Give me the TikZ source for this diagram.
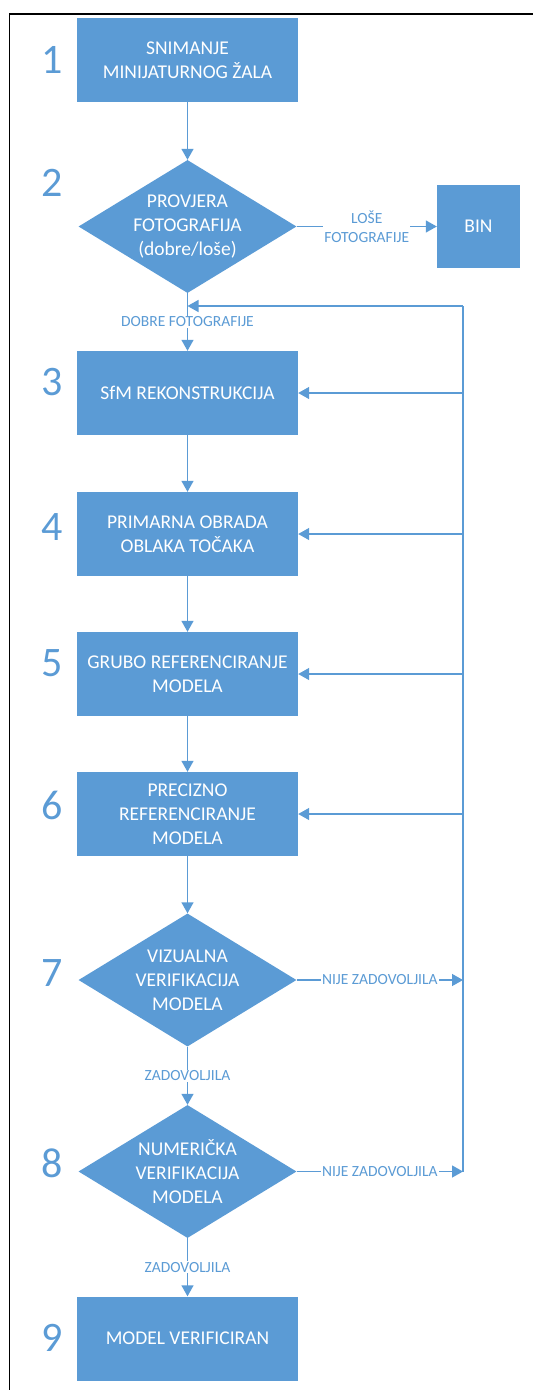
\documentclass[tikz,border=0pt]{standalone}
\usepackage{fontspec}
\setmainfont{Carlito}
\usepackage{tikz}
\usetikzlibrary{shapes.geometric,arrows.meta}
\definecolor{flowblue}{HTML}{5B9BD5}

\begin{document}
\begin{tikzpicture}[x=1pt,y=-1pt,
    box/.style={draw=none, fill=flowblue, text=white, minimum width=221pt, minimum height=84pt, align=center, font=\fontsize{19.5}{24}\selectfont},
    decision/.style={diamond, aspect=1.64, fill=flowblue, minimum width=218pt, minimum height=133pt, inner sep=0pt},
    dtext/.style={text=white, inner sep=0pt, align=center, font=\fontsize{19.5}{24}\selectfont},
    flow/.style={flowblue, line width=1.4pt, -{Triangle[length=11pt,width=12pt]}},
    lbl/.style={fill=white, text=flowblue, inner sep=1pt, align=center, font=\fontsize{15.5}{19}\selectfont},
    num/.style={text=flowblue, font=\fontsize{42}{42}\selectfont}]
    \useasboundingbox (0,0) rectangle (533,1390);
    \draw[black, line width=1.3pt] (9.5,1390) -- (9.5,14) -- (533,14) ;
    \node[box] (b1) at (187.5,60) {SNIMANJE\\MINIJATURNOG ŽALA} ;
    \node[decision] (d2) at (187.5,226.5) {} ;
    \node[dtext] (t2) at (d2) {PROVJERA\\FOTOGRAFIJA\\(dobre/loše)} ;
    \node[box, minimum width=83pt, minimum height=83pt] (bin) at (478.5,226.5) {BIN} ;
    \node[box] (b3) at (187.5,393) {SfM REKONSTRUKCIJA} ;
    \node[box] (b4) at (187.5,534) {PRIMARNA OBRADA\\OBLAKA TOČAKA} ;
    \node[box] (b5) at (187.5,674) {GRUBO REFERENCIRANJE\\MODELA} ;
    \node[box] (b6) at (187.5,814) {PRECIZNO\\REFERENCIRANJE\\MODELA} ;
    \node[decision] (d7) at (187.5,980) {} ;
    \node[dtext] (t7) at (d7) {VIZUALNA\\VERIFIKACIJA\\MODELA} ;
    \node[decision] (d8) at (187.5,1171.5) {} ;
    \node[dtext] (t8) at (d8) {NUMERIČKA\\VERIFIKACIJA\\MODELA} ;
    \node[box] (b9) at (187.5,1338.5) {MODEL VERIFICIRAN} ;
    \foreach \n/\y in {1/60,2/183,3/382,4/527,5/663,6/805,7/973,8/1163,9/1338}
        \node[num] (n\n) at (52,\y) {\n} ;
    \coordinate (fbtop) at (463,306) ;
    \coordinate (fbbot) at (463,1171.5) ;
    \coordinate (join) at (187.5,306) ;
    \draw[flow] (b1) -- (d2) ;
    \draw[flow] (d2) -- node[lbl] {LOŠE\\FOTOGRAFIJE} (bin) ;
    \draw[flow] (d2) -- node[lbl, pos=0.5] {DOBRE FOTOGRAFIJE} (b3) ;
    \draw[flowblue, line width=1.4pt] (fbbot) -- (fbtop) ;
    \draw[flow] (fbtop) -- (join) ;
    \draw[flow] (b3.east -| fbtop) -- (b3.east) ;
    \draw[flow] (b4.east -| fbtop) -- (b4.east) ;
    \draw[flow] (b5.east -| fbtop) -- (b5.east) ;
    \draw[flow] (b6.east -| fbtop) -- (b6.east) ;
    \draw[flow] (b3) -- (b4) ;
    \draw[flow] (b4) -- (b5) ;
    \draw[flow] (b5) -- (b6) ;
    \draw[flow] (b6) -- (d7) ;
    \draw[flow] (d7) -- node[lbl] {ZADOVOLJILA} (d8) ;
    \draw[flow] (d8) -- node[lbl] {ZADOVOLJILA} (b9) ;
    \draw[flow] (d7.east) -- node[lbl] {NIJE ZADOVOLJILA} (d7.east -| fbtop) ;
    \draw[flow] (d8.east) -- node[lbl] {NIJE ZADOVOLJILA} (fbbot) ;
\end{tikzpicture}
\end{document}
